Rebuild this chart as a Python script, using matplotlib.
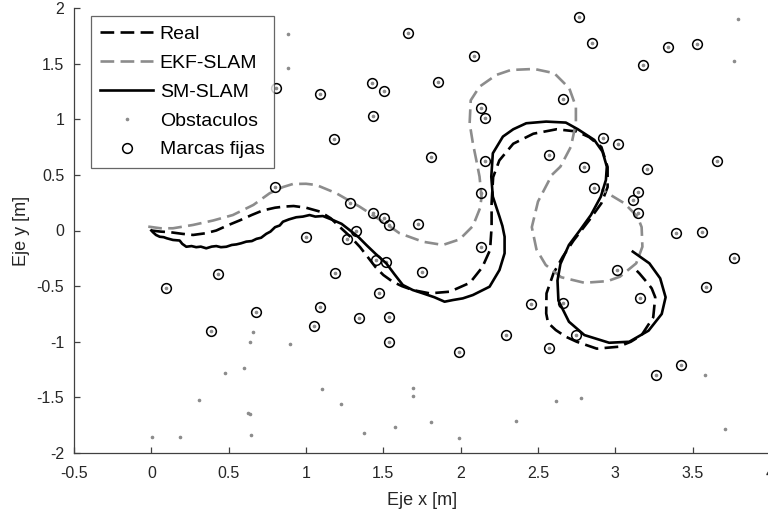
import numpy as np
import matplotlib
matplotlib.use("Agg")
import matplotlib.pyplot as plt

plt.rcParams['font.family'] = ['Liberation Sans', 'DejaVu Sans']

# Ground-truth trajectory
real_x = [0.00, 0.06, 0.12, 0.20, 0.27, 0.35, 0.42, 0.50, 0.57, 0.65, 0.72, 0.80, 0.86, 0.92,
          1.00, 1.09, 1.16, 1.22, 1.29, 1.35, 1.40, 1.45, 1.50, 1.56, 1.62, 1.69, 1.80, 1.93,
          2.06, 2.14, 2.19, 2.20, 2.20, 2.21, 2.25, 2.34, 2.47, 2.62, 2.75, 2.83, 2.91, 2.95,
          2.95, 2.91, 2.83, 2.73, 2.66, 2.60, 2.555, 2.553, 2.565, 2.615, 2.68, 2.75, 2.88,
          3.02, 3.10, 3.17, 3.245, 3.258, 3.235, 3.21, 3.155, 3.113]
real_y = [0.00, -0.01, -0.015, -0.03, -0.04, -0.025, 0.00, 0.05, 0.09, 0.14, 0.18, 0.205, 0.215, 0.22,
          0.205, 0.17, 0.11, 0.03, -0.06, -0.15, -0.24, -0.33, -0.40, -0.46, -0.50, -0.535, -0.565, -0.55,
          -0.47, -0.33, -0.175, 0.03, 0.245, 0.48, 0.63, 0.78, 0.87, 0.91, 0.89, 0.84, 0.75, 0.57,
          0.39, 0.245, 0.09, -0.09, -0.236, -0.385, -0.565, -0.745, -0.83, -0.895, -0.955, -1.00, -1.062,
          -1.045, -1.00, -0.94, -0.78, -0.60, -0.52, -0.475, -0.385, -0.326]

# EKF-SLAM estimate
ekf_x = [-0.02, 0.06, 0.14, 0.27, 0.40, 0.527, 0.66, 0.765, 0.85, 0.915, 1.00, 1.067, 1.196, 1.347,
         1.497, 1.605, 1.756, 1.885, 1.993, 2.079, 2.125, 2.135, 2.122, 2.10, 2.079, 2.058, 2.065,
         2.122, 2.23, 2.325, 2.476, 2.605, 2.702, 2.745, 2.745, 2.713, 2.645, 2.59, 2.50, 2.46,
         2.49, 2.55, 2.65, 2.80, 2.95, 3.03, 3.135, 3.175, 3.17, 3.144, 3.058, 2.95, 2.91]
ekf_y = [0.035, 0.02, 0.02, 0.05, 0.09, 0.139, 0.23, 0.335, 0.39, 0.418, 0.42, 0.409, 0.335, 0.214,
         0.079, -0.025, -0.101, -0.13, -0.08, 0.04, 0.20, 0.30, 0.484, 0.64, 0.784, 0.964, 1.17,
         1.293, 1.398, 1.443, 1.452, 1.414, 1.279, 1.113, 0.964, 0.754, 0.574, 0.50, 0.26, 0.03,
         -0.17, -0.31, -0.42, -0.47, -0.455, -0.415, -0.295, -0.146, 0.03, 0.124, 0.245, 0.335, 0.37]

# SM-SLAM estimate
sm_x = [0.00, 0.01, 0.03, 0.054, 0.08, 0.10, 0.14, 0.183, 0.20, 0.226, 0.26, 0.29, 0.32, 0.355,
        0.39, 0.42, 0.45, 0.485, 0.52, 0.55, 0.58, 0.614, 0.65, 0.68, 0.71, 0.743, 0.77, 0.80,
        0.83, 0.851, 0.89, 0.937, 0.98, 1.023, 1.06, 1.109, 1.174, 1.23, 1.282, 1.34, 1.39,
        1.45, 1.519, 1.57, 1.626, 1.69, 1.756, 1.83, 1.896, 1.95, 2.014, 2.079, 2.187, 2.251,
        2.284, 2.284, 2.27, 2.251, 2.208, 2.198, 2.208, 2.273, 2.34, 2.424, 2.553, 2.68, 2.758,
        2.864, 2.917, 2.945, 2.939, 2.906, 2.842, 2.77, 2.70, 2.645, 2.626, 2.632, 2.70, 2.80,
        2.96, 3.09, 3.215, 3.30, 3.325, 3.29, 3.22, 3.113]
sm_y = [0.00, -0.015, -0.04, -0.056, -0.06, -0.07, -0.085, -0.09, -0.12, -0.146, -0.14, -0.15, -0.145, -0.16,
        -0.145, -0.14, -0.15, -0.146, -0.13, -0.125, -0.115, -0.10, -0.095, -0.075, -0.065, -0.03, -0.01, 0.03,
        0.045, 0.079, 0.10, 0.119, 0.125, 0.139, 0.125, 0.13, 0.094, 0.06, 0.004, -0.06, -0.13,
        -0.21, -0.295, -0.39, -0.49, -0.535, -0.565, -0.60, -0.64, -0.625, -0.61, -0.58, -0.505, -0.355,
        -0.205, -0.056, 0.04, 0.124, 0.304, 0.484, 0.694, 0.844, 0.91, 0.964, 0.979, 0.97, 0.91,
        0.814, 0.709, 0.574, 0.454, 0.304, 0.139, 0.00, -0.13, -0.30, -0.45, -0.63, -0.82, -0.94,
        -1.009, -1.00, -0.90, -0.75, -0.60, -0.43, -0.295, -0.19]

# Fixed landmarks
marks_x = [1.659, 2.085, 0.804, 1.088, 1.426, 1.502, 1.853, 1.433, 1.183, 1.808, 2.129, 2.155,
           2.155, 2.762, 2.848, 3.342, 3.525, 3.182, 2.663, 2.922, 3.016, 2.570, 2.799, 3.202,
           3.659, 0.431, 0.097, 0.678, 0.388, 0.801, 1.282, 1.433, 1.502, 1.536, 1.723, 1.325,
           1.264, 0.997, 1.454, 1.515, 1.752, 1.185, 1.469, 1.088, 1.342, 1.536, 1.049, 2.129,
           2.129, 2.864, 3.144, 3.116, 3.144, 3.391, 3.559, 3.769, 3.008, 3.585, 3.159, 2.659,
           2.454, 1.536, 1.986, 2.290, 2.570, 2.745, 3.266, 3.423]
marks_y = [1.779, 1.569, 1.279, 1.227, 1.324, 1.254, 1.338, 1.032, 0.823, 0.658, 1.104, 1.009,
           0.622, 1.917, 1.683, 1.650, 1.674, 1.485, 1.183, 0.835, 0.778, 0.682, 0.570, 0.550,
           0.622, -0.391, -0.520, -0.730, -0.904, 0.394, 0.250, 0.160, 0.110, 0.049, 0.056, -0.004,
           -0.079, -0.056, -0.265, -0.280, -0.370, -0.379, -0.565, -0.685, -0.790, -0.775, -0.862, 0.335,
           -0.146, 0.379, 0.343, 0.272, 0.160, -0.025, -0.016, -0.250, -0.355, -0.505, -0.610, -0.649,
           -0.661, -1.000, -1.093, -0.940, -1.054, -0.940, -1.302, -1.207]

# Obstacles that are not landmarks
obst_x = [0.883, 0.883, 3.794, 3.769, 0.657, 0.635, 0.599, 0.478, 0.308, 0.624, 0.635, 0.642,
          0.185, 0.006, 0.894, 1.105, 1.228, 1.689, 1.691, 1.810, 1.577, 1.372, 1.986, 3.581,
          3.708, 2.615, 2.777, 2.357]
obst_y = [1.767, 1.464, 1.905, 1.527, -0.915, -1.005, -1.236, -1.284, -1.524, -1.644, -1.652, -1.839,
          -1.854, -1.860, -1.023, -1.423, -1.557, -1.413, -1.491, -1.725, -1.767, -1.818, -1.863, -1.299,
          -1.785, -1.533, -1.503, -1.710]

x_ticks = [-0.5, 0, 0.5, 1, 1.5, 2, 2.5, 3, 3.5, 4]
x_tick_labels = ['-0.5', '0', '0.5', '1', '1.5', '2', '2.5', '3', '3.5', '4']
y_ticks = [-2, -1.5, -1, -0.5, 0, 0.5, 1, 1.5, 2]
y_tick_labels = ['-2', '-1.5', '-1', '-0.5', '0', '0.5', '1', '1.5', '2']

GRAY = '#8c8c8c'
DASH = (0, (5.2, 2.4))

fig = plt.figure(figsize=(7.68, 5.12), dpi=100)
ax = fig.add_axes([74 / 768, 59 / 512, 696 / 768, 445 / 512])

all_ox = list(marks_x) + list(obst_x)
all_oy = list(marks_y) + list(obst_y)

ax.plot(real_x, real_y, color='black', lw=1.9, linestyle=DASH, label='Real', zorder=3)
ax.plot(ekf_x, ekf_y, color=GRAY, lw=1.9, linestyle=DASH, label='EKF-SLAM', zorder=3)
ax.plot(sm_x, sm_y, color='black', lw=1.9, linestyle='-', label='SM-SLAM', zorder=4)
ax.plot(all_ox, all_oy, linestyle='none', marker='.', color=GRAY, markersize=3.2,
        label='Obstaculos', zorder=2)
ax.plot(marks_x, marks_y, linestyle='none', marker='o', markerfacecolor='none',
        markeredgecolor='black', markersize=7, markeredgewidth=1.1, label='Marcas fijas', zorder=5)

ax.set_xlim(-0.5, 4)
ax.set_ylim(-2, 2)
ax.set_xticks(x_ticks)
ax.set_xticklabels(x_tick_labels)
ax.set_yticks(y_ticks)
ax.set_yticklabels(y_tick_labels)

for side in ('top', 'right'):
    ax.spines[side].set_visible(False)
for side in ('left', 'bottom'):
    ax.spines[side].set_color('#404040')
    ax.spines[side].set_linewidth(0.9)

ax.tick_params(axis='both', direction='in', length=4, width=0.9, color='#404040',
               labelsize=11.5, labelcolor='#262626')
ax.tick_params(axis='x', pad=9)
ax.tick_params(axis='y', pad=7)

ax.set_xlabel('Eje x [m]', fontsize=13, color='#262626', labelpad=8)
ax.set_ylabel('Eje y [m]', fontsize=13, color='#262626', labelpad=5)

leg = ax.legend(loc='upper left', bbox_to_anchor=(0.024, 0.983), borderaxespad=0,
                fontsize=14, frameon=True, fancybox=False, edgecolor='#404040',
                handlelength=2.7, handletextpad=0.35, labelspacing=0.58,
                borderpad=0.5, markerscale=1.0)
leg.get_frame().set_linewidth(0.9)

fig.savefig('out.png', dpi=100)
